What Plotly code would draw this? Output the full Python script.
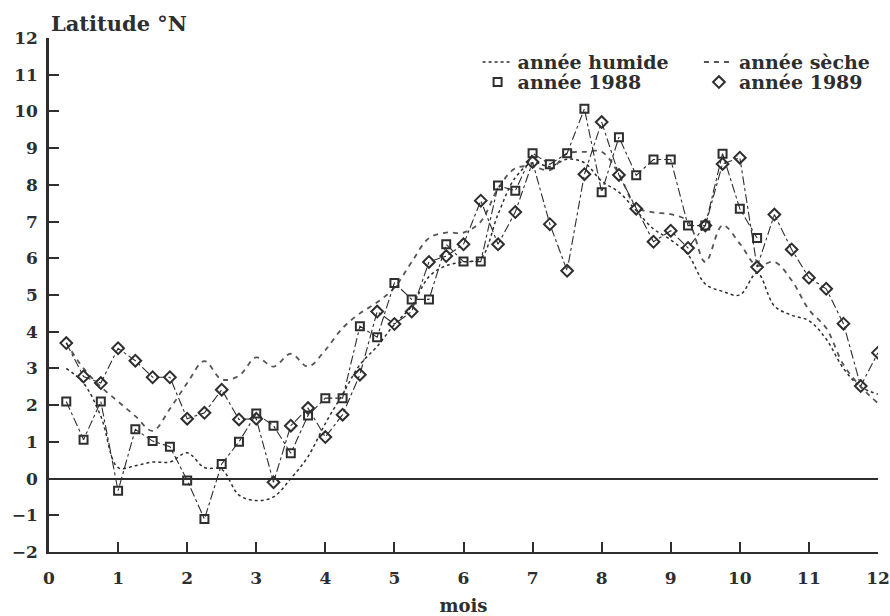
import plotly.graph_objects as go

# time axis: weekly steps (quarter month)
mois = [0.25, 0.5, 0.75, 1.0, 1.25, 1.5, 1.75, 2.0, 2.25, 2.5, 2.75, 3.0,
        3.25, 3.5, 3.75, 4.0, 4.25, 4.5, 4.75, 5.0, 5.25, 5.5, 5.75, 6.0,
        6.25, 6.5, 6.75, 7.0, 7.25, 7.5, 7.75, 8.0, 8.25, 8.5, 8.75, 9.0,
        9.25, 9.5, 9.75, 10.0, 10.25, 10.5, 10.75, 11.0, 11.25, 11.5, 11.75, 12.0]

# smoothed curves (latitude °N)
humide = [3.0, 2.6, 1.7, 0.3, 0.35, 0.45, 0.45, 0.7, 0.3, 0.25, -0.45, -0.6,
          -0.5, 0.0, 0.6, 1.5, 2.3, 3.1, 3.6, 4.2, 4.7, 5.5, 5.8, 5.9,
          6.0, 7.2, 8.2, 8.6, 8.5, 8.7, 8.6, 8.1, 7.8, 7.3, 6.8, 6.5,
          6.1, 5.3, 5.1, 5.0, 5.6, 4.7, 4.45, 4.3, 3.8, 3.0, 2.5, 2.3]
seche = [3.7, 3.0, 2.5, 2.1, 1.7, 1.3, 1.9, 2.6, 3.2, 2.7, 2.8, 3.3,
         3.05, 3.4, 3.05, 3.5, 4.1, 4.5, 4.8, 5.2, 5.9, 6.55, 6.7, 6.7,
         7.0, 7.9, 8.45, 8.5, 8.4, 8.85, 8.9, 8.9, 8.3, 7.4, 7.25, 7.2,
         7.0, 5.9, 6.9, 6.4, 5.8, 5.9, 5.4, 4.6, 4.1, 3.1, 2.5, 2.05]

# weekly observations
mois_1988 = mois[:41]
lat_1988 = [2.1, 1.06, 2.1, -0.33, 1.34, 1.02, 0.87, -0.05, -1.1, 0.4, 1.0, 1.77,
            1.44, 0.69, 1.72, 2.19, 2.19, 4.15, 3.85, 5.33, 4.88, 4.88, 6.38, 5.91,
            5.91, 7.98, 7.84, 8.86, 8.56, 8.86, 10.07, 7.8, 9.3, 8.26, 8.69, 8.69,
            6.89, 6.89, 8.85, 7.35, 6.55]
lat_1989 = [3.69, 2.78, 2.6, 3.55, 3.21, 2.76, 2.76, 1.63, 1.79, 2.42, 1.61, 1.63,
            -0.1, 1.44, 1.92, 1.13, 1.74, 2.83, 4.55, 4.21, 4.55, 5.9, 6.06, 6.38,
            7.57, 6.38, 7.26, 8.62, 6.93, 5.66, 8.29, 9.71, 8.27, 7.35, 6.45, 6.75,
            6.28, 6.89, 8.57, 8.74, 5.76, 7.19, 6.24, 5.47, 5.17, 4.22, 2.52, 3.43]

ink = '#2e2e2e'
fnt = 'DejaVu Serif'

fig = go.Figure()

fig.add_trace(go.Scatter(x=mois, y=humide, mode='lines', name='année humide',
                         line=dict(color=ink, width=1.5, dash='dot', shape='spline'),
                         legend='legend'))
fig.add_trace(go.Scatter(x=mois, y=seche, mode='lines', name='année sèche',
                         line=dict(color='#555555', width=1.8, dash='5px,5px', shape='spline'),
                         legend='legend2'))

# connecting lines for the yearly observations
fig.add_trace(go.Scatter(x=mois_1988, y=lat_1988, mode='lines', showlegend=False,
                         line=dict(color=ink, width=1.1, dash='dashdot')))
fig.add_trace(go.Scatter(x=mois, y=lat_1989, mode='lines', showlegend=False,
                         line=dict(color=ink, width=1.1, dash='dashdot')))

fig.add_trace(go.Scatter(x=mois_1988, y=lat_1988, mode='markers', name='année 1988',
                         marker=dict(symbol='square-open', size=8, color=ink,
                                     line=dict(width=2, color=ink)),
                         legend='legend3'))
fig.add_trace(go.Scatter(x=mois, y=lat_1989, mode='markers', name='année 1989',
                         marker=dict(symbol='diamond-open', size=9, color=ink,
                                     line=dict(width=2, color=ink)),
                         legend='legend4'))

legend_style = dict(font=dict(family=fnt, size=19, color=ink, weight='bold'),
                    bgcolor='rgba(0,0,0,0)', itemwidth=30,
                    yanchor='top', xanchor='left')

fig.update_layout(
    width=890, height=616,
    paper_bgcolor='white', plot_bgcolor='white',
    margin=dict(l=49, r=12, t=38, b=64),
    font=dict(family=fnt, color=ink),
    legend=dict(x=0.517, y=0.99, **legend_style),
    legend2=dict(x=0.784, y=0.99, **legend_style),
    legend3=dict(x=0.517, y=0.951, **legend_style),
    legend4=dict(x=0.784, y=0.951, **legend_style),
    xaxis=dict(
        range=[0, 12], tickvals=list(range(13)), automargin=False,
        ticks='inside', ticklen=10, tickwidth=1.5, tickcolor=ink,
        showline=True, linecolor=ink, linewidth=2, showgrid=False, zeroline=False,
        ticklabelstandoff=10,
        tickfont=dict(family=fnt, size=17, color=ink, weight='bold'),
        title=dict(text='mois', font=dict(family=fnt, size=18, color=ink, weight='bold'),
                   standoff=14),
    ),
    yaxis=dict(
        range=[-2, 12], tickvals=list(range(-2, 13)), automargin=False,
        ticks='inside', ticklen=10, tickwidth=1.5, tickcolor=ink,
        showline=True, linecolor=ink, linewidth=2.5, showgrid=False,
        zeroline=True, zerolinecolor=ink, zerolinewidth=1.8,
        ticklabelstandoff=5,
        tickfont=dict(family=fnt, size=17, color=ink, weight='bold'),
    ),
    annotations=[dict(text='Latitude °N', xref='paper', yref='paper', x=0.0, y=1.0,
                      xanchor='left', yanchor='bottom', showarrow=False, yshift=0,
                      font=dict(family=fnt, size=21, color=ink, weight='bold'))],
)

# drop the default page margin so the 890x616 figure fills the window exactly
fig.write_html('out.html', config={'displayModeBar': False},
               post_script="document.body.style.margin='0';document.body.style.overflow='hidden';")
